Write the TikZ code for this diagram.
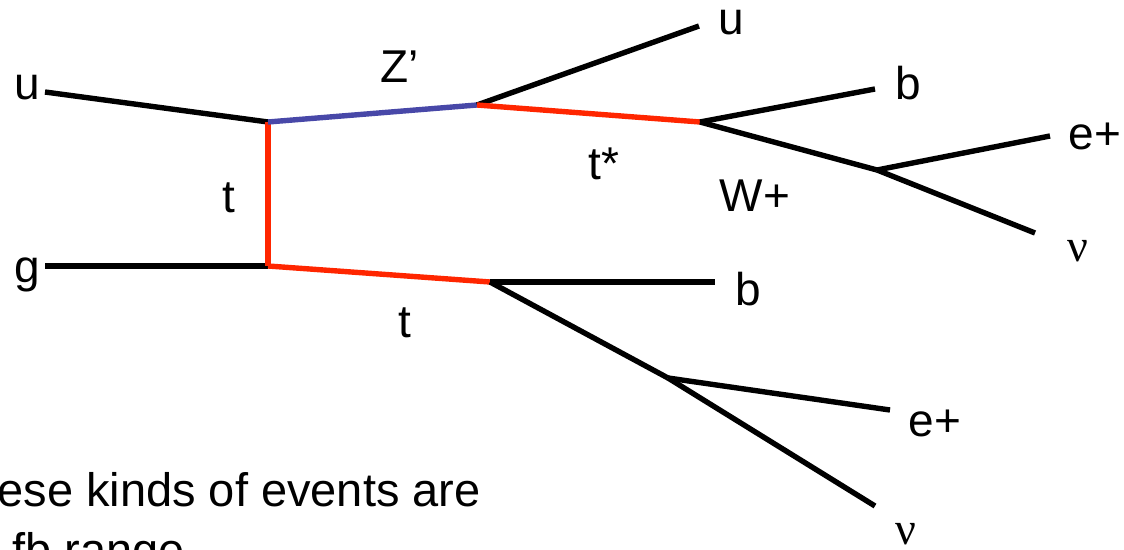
\documentclass[tikz,border=0pt]{standalone}
\usepackage{fontspec}
\setmainfont{Liberation Sans}
\newfontfamily\nufont{Liberation Serif}
\usetikzlibrary{positioning}
\definecolor{toprop}{RGB}{255,38,0}
\definecolor{zprime}{RGB}{72,72,168}
\tikzset{
  leg/.style={draw=black, line width=2.7pt},
  top line/.style={leg, draw=toprop},
  z line/.style={leg, draw=zprime},
  lbl/.style={anchor=base, inner sep=0pt, font=\fontsize{23}{27}\selectfont},
  note/.style={anchor=base west, inner sep=0pt, font=\fontsize{23.5}{28}\selectfont},
}

\begin{document}
\begin{tikzpicture}[x=0.5pt, y=-0.5pt]
  \useasboundingbox (0,0) rectangle (1124,550);
  \clip (0,0) rectangle (1124,550);

  % vertices
  \coordinate (QG) at (268,122);
  \coordinate (GT) at (268,266);
  \coordinate (ZD) at (477,105);
  \coordinate (TS) at (700,122);
  \coordinate (WP) at (877,170);
  \coordinate (TB) at (490,282);
  \coordinate (WB) at (668,378);

  % free ends
  \coordinate (uIn) at (45,92);
  \coordinate (gIn) at (45,266);
  \coordinate (uOut) at (699,26);
  \coordinate (bTop) at (875,89);
  \coordinate (eTop) at (1050,136);
  \coordinate (nuTop) at (1035,233);
  \coordinate (bBot) at (715,282);
  \coordinate (eBot) at (890,410);
  \coordinate (nuBot) at (875,506);

  % labels
  \node[lbl] (Lu)   at (27,100)   {u};
  \node[lbl] (Lg)   at (27,283)   {g};
  \node[lbl] (Lt)   at (229,213)  {t};
  \node[lbl] (Lz)   at (400,83)   {Z’};
  \node[lbl] (Lu2)  at (731,35)   {u};
  \node[lbl] (Lts)  at (604,180)  {t*};
  \node[lbl] (Lb)   at (908,100)  {b};
  \node[lbl] (Lw)   at (755,212)  {W+};
  \node[lbl] (Le)   at (1095,150) {e+};
  \node[lbl] (Lnu)  at (1078,262) {\nufont ν};
  \node[lbl] (Lt2)  at (405,338)  {t};
  \node[lbl] (Lb2)  at (748,306)  {b};
  \node[lbl] (Le2)  at (935,437)  {e+};
  \node[lbl] (Lnu2) at (906,544)  {\nufont ν};

  \node[note] (N1) at (-3,506) {ese kinds of events are};
  \node[note] (N2) at (12,566) {fb range};

  % propagators
  \draw[leg] (uIn) -- (QG);
  \draw[leg] (gIn) -- (GT);
  \draw[top line] (QG) -- (GT);
  \draw[z line] (QG) -- (ZD);
  \draw[leg] (ZD) -- (uOut);
  \draw[top line] (ZD) -- (TS);
  \draw[leg] (TS) -- (bTop);
  \draw[leg] (TS) -- (WP);
  \draw[leg] (WP) -- (eTop);
  \draw[leg] (WP) -- (nuTop);
  \draw[top line] (GT) -- (TB);
  \draw[leg] (TB) -- (bBot);
  \draw[leg] (TB) -- (WB);
  \draw[leg] (WB) -- (eBot);
  \draw[leg] (WB) -- (nuBot);
\end{tikzpicture}
\end{document}
